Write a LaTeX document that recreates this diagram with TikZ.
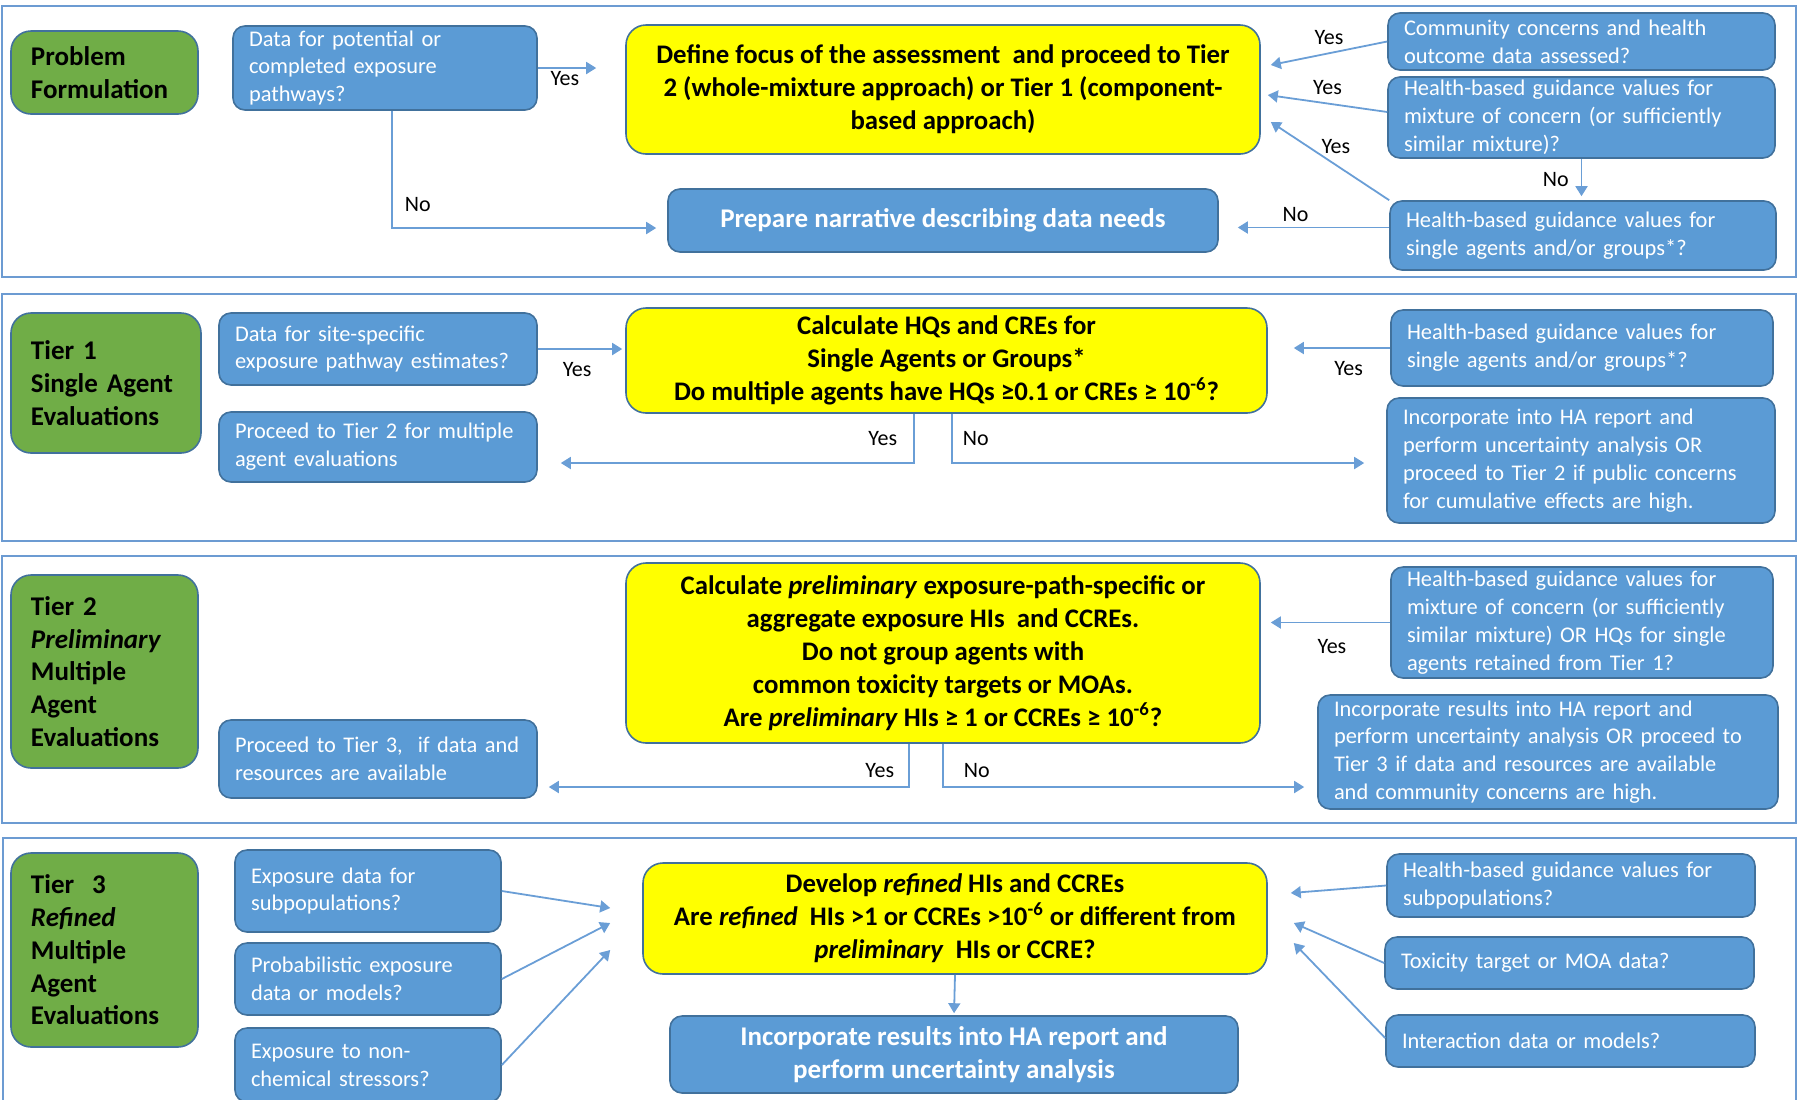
\documentclass[tikz,border=0pt]{standalone}
\usepackage{fontspec}
\setmainfont{Carlito}
\usetikzlibrary{arrows.meta, calc, positioning}
\definecolor{Frame}{HTML}{6C9BD2}
\definecolor{BoxBlue}{HTML}{5B9BD5}
\definecolor{BoxEdge}{HTML}{41719C}
\definecolor{TierGreen}{HTML}{70AD47}
\definecolor{Hilite}{HTML}{FFFF00}
\definecolor{Link}{HTML}{6A9ED6}
\hyphenpenalty=10000
\exhyphenpenalty=10000

\begin{document}
\begin{tikzpicture}[x=0.5pt, y=-0.5pt, >={Triangle[length=5pt, width=6pt]},
  panel/.style={draw=Frame, line width=1pt},
  tier/.style={draw=BoxEdge, fill=TierGreen, rounded corners=10pt, line width=0.8pt,
    align=left, inner xsep=10pt, inner ysep=2pt, font=\fontsize{13.5}{16.4}\selectfont\bfseries},
  query/.style={draw=BoxEdge, fill=BoxBlue, rounded corners=6pt, line width=0.8pt, text=white,
    align=left, inner xsep=8pt, inner ysep=1pt, font=\fontsize{11.2}{13.9}\selectfont},
  outcome/.style={draw=BoxEdge, fill=BoxBlue, rounded corners=6pt, line width=0.8pt, text=white,
    align=center, inner sep=2pt, font=\fontsize{13.5}{16.6}\selectfont\bfseries},
  decide/.style={draw=BoxEdge, fill=Hilite, rounded corners=10pt, line width=0.8pt,
    align=center, inner sep=2pt, font=\fontsize{13.4}{16.5}\selectfont\bfseries},
  arr/.style={->, draw=Link, line width=0.9pt},
  lbl/.style={font=\fontsize{11}{13}\selectfont, inner sep=1pt}]
  \useasboundingbox (0,0) rectangle (1799,1099);
  \clip (0,0) rectangle (1799,1099);

  % panels
  \draw[panel] (2,6) rectangle (1796,277);
  \draw[panel] (2,294) rectangle (1796,541);
  \draw[panel] (2,556) rectangle (1796,823);
  \draw[panel] (3,838) rectangle (1796,1130);

  % problem formulation
  \node[tier, text width=73.5pt, minimum height=41.5pt] (pf) at (104.5,72.5) {Problem\\Formulation};
  \node[query, text width=136pt, minimum height=42pt] (qpath) at (385,68)
    {Data for potential or\\completed exposure\\pathways?};
  \node[decide, minimum width=317pt, minimum height=64.5pt] (focus) at (943,89.5)
    {Define focus of the assessment\ \ and proceed to Tier\\2 (whole-mixture approach) or Tier 1 (component-\\based approach)};
  \node[query, text width=177.5pt, minimum height=28.5pt] (qcomm) at (1581.5,41.5)
    {Community concerns and health\\outcome data assessed?};
  \node[query, text width=177.5pt, minimum height=40.5pt] (qmix) at (1581.5,117.5)
    {Health-based guidance values for\\mixture of concern (or sufficiently\\similar mixture)?};
  \node[query, text width=177pt, minimum height=34.5pt] (qsingle) at (1583,235.5)
    {Health-based guidance values for\\single agents and/or groups*?};
  \node[outcome, minimum width=275pt, minimum height=31.5pt] (narr) at (943,220.5)
    {Prepare narrative describing data needs};

  \draw[arr, shorten >=14.5pt] (qpath.east) -- (qpath.east -| focus.west) node[lbl, pos=0.31, below] {Yes};
  \draw[arr, shorten >=5.5pt] ([xshift=3.5pt]qpath.south) |- ([yshift=-3.75pt]narr.west) node[lbl, pos=0.4, right=5pt] {No};
  \draw[arr] (qcomm.west) -- ($(focus.east)+(10,-24.5)$) node[lbl, midway, above=3pt] {Yes};
  \draw[arr] ([yshift=2.75pt]qmix.west) -- ($(focus.east)+(7,5.5)$) node[lbl, midway, above=3pt] {Yes};
  \draw[arr] (qsingle.north west) -- ($(focus.east)+(10,32.5)$) node[lbl, pos=0.45, above=4pt] {Yes};
  \draw[arr, shorten >=2pt] (qmix.south) -- (qmix.south |- qsingle.north) node[lbl, midway, left=5pt] {No};
  \draw[arr, shorten >=9.5pt] ([yshift=4pt]qsingle.west) -- ([yshift=4pt]qsingle.west -| narr.east) node[lbl, pos=0.55, above=1.5pt] {No};

  % tier 1
  \node[tier, text width=75pt, minimum height=70pt] (t1) at (106,383) {Tier 1\\Single Agent\\Evaluations};
  \node[query, text width=143pt, minimum height=36pt] (qsite) at (378,349)
    {Data for site-specific\\exposure pathway estimates?};
  \node[query, text width=143pt, minimum height=35pt] (gotwo) at (378,447)
    {Proceed to Tier 2 for multiple\\agent evaluations};
  \node[decide, minimum width=320.5pt, minimum height=52.5pt] (calc1) at (946.5,360.5)
    {Calculate HQs and CREs for\\Single Agents or Groups*\\Do multiple agents have HQs ≥0.1 or CREs ≥ 10\textsuperscript{-6}?};
  \node[query, text width=175pt, minimum height=38pt] (hbgv1) at (1582,348)
    {Health-based guidance values for\\single agents and/or groups*?};
  \node[query, text width=178pt, minimum height=62.5pt] (inc1) at (1581,460.5)
    {Incorporate into HA report and\\perform uncertainty analysis OR\\proceed to Tier 2 if public concerns\\for cumulative effects are high.};

  \draw[arr, shorten >=1.5pt] (qsite.east) -- (qsite.east -| calc1.west) node[lbl, pos=0.45, below=5pt] {Yes};
  \draw[arr, shorten >=13pt] (hbgv1.west) -- (hbgv1.west -| calc1.east) node[lbl, pos=0.34, below=5pt] {Yes};
  \draw[arr, shorten >=11.5pt] ([xshift=-16.25pt]calc1.south) |- ([yshift=-8pt]gotwo.east) node[lbl, pos=0.25, left=7pt] {Yes};
  \draw[arr, shorten >=11pt] ([xshift=2.75pt]calc1.south) |- ([yshift=-1.25pt]inc1.west) node[lbl, pos=0.25, right=4pt] {No};

  % tier 2
  \node[tier, text width=73.5pt, minimum height=96.5pt] (t2) at (104.5,671.5)
    {Tier 2\\\textit{Preliminary}\\Multiple\\Agent\\Evaluations};
  \node[query, text width=143pt, minimum height=39pt] (gothree) at (378,759)
    {Proceed to Tier 3,\ \ if data and\\resources are available};
  \node[decide, minimum width=317pt, minimum height=90pt] (calc2) at (943,653)
    {Calculate \textit{preliminary} exposure-path-specific or\\aggregate exposure HIs\ \ and CCREs.\\Do not group agents with\\common toxicity targets or MOAs.\\Are \textit{preliminary} HIs ≥ 1 or CCREs ≥ 10\textsuperscript{-6}?};
  \node[query, text width=175pt, minimum height=55.5pt] (hbgv2) at (1582,622.5)
    {Health-based guidance values for\\mixture of concern (or sufficiently\\similar mixture) OR HQs for single\\agents retained from Tier 1?};
  \node[query, text width=214pt, minimum height=57pt] (inc2) at (1548,752)
    {Incorporate results into HA report and\\perform uncertainty analysis OR proceed to\\Tier 3 if data and resources are available\\and community concerns are high.};

  \draw[arr, shorten >=5pt] (hbgv2.west) -- (hbgv2.west -| calc2.east) node[lbl, pos=0.45, below=7pt] {Yes};
  \draw[arr, shorten >=5.5pt] ([xshift=-17pt]calc2.south) |- ([yshift=-14pt]gothree.east) node[lbl, pos=0.31, left=6pt] {Yes};
  \draw[arr, shorten >=6.5pt] (calc2.south) |- ([yshift=-17.5pt]inc2.west) node[lbl, pos=0.31, right=9pt] {No};

  % tier 3
  \node[tier, text width=73.5pt, minimum height=97pt] (t3) at (104.5,950)
    {Tier\ \ 3\\\textit{Refined}\\Multiple\\Agent\\Evaluations};
  \node[query, text width=117pt, minimum height=41pt] (qexpo) at (368,891)
    {Exposure data for\\subpopulations?};
  \node[query, text width=117pt, minimum height=36pt] (qprob) at (368,979)
    {Probabilistic exposure\\data or models?};
  \node[query, text width=117pt, minimum height=37pt] (qnonchem) at (368,1065)
    {Exposure to non-\\chemical stressors?};
  \node[decide, minimum width=312pt, minimum height=55.5pt] (refine) at (955,918.5)
    {Develop \textit{refined} HIs and CCREs\\Are \textit{refined}\ \ HIs >1 or CCREs >10\textsuperscript{-6} or different from\\\textit{preliminary}\ \ HIs or CCRE?};
  \node[outcome, minimum width=284pt, minimum height=38.5pt] (incfin) at (954,1054.5)
    {Incorporate results into HA report and\\perform uncertainty analysis};
  \node[query, text width=168pt, minimum height=31.5pt] (hbgv3) at (1571,885.5)
    {Health-based guidance values for\\subpopulations?};
  \node[query, text width=168.5pt, minimum height=26pt] (qtox) at (1569.5,963)
    {Toxicity target or MOA data?};
  \node[query, text width=168.5pt, minimum height=26pt] (qinter) at (1570.5,1041)
    {Interaction data or models?};

  \draw[arr] (qexpo.east) -- ($(refine.west)+(-32,-10.5)$);
  \draw[arr] (qprob.east) -- ($(refine.west)+(-32,4.5)$);
  \draw[arr] (qnonchem.east) -- ($(refine.west)+(-32,31.5)$);
  \draw[arr] (hbgv3.west) -- ($(refine.east)+(23,-25.5)$);
  \draw[arr] (qtox.west) -- ($(refine.east)+(26,4.5)$);
  \draw[arr] ([yshift=1.5pt]qinter.west) -- ($(refine.east)+(26,24.5)$);
  \draw[arr, shorten >=1pt] (refine.south) -- (incfin.north);
\end{tikzpicture}
\end{document}
